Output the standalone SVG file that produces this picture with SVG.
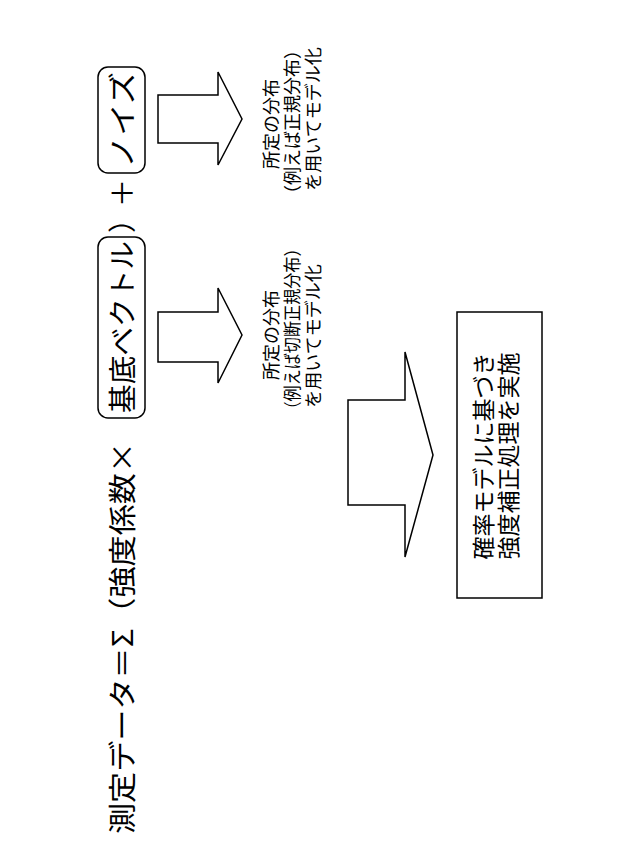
<svg xmlns="http://www.w3.org/2000/svg" width="640" height="860" viewBox="0 0 640 860">
<style>
text{font-family:"Noto Sans CJK JP","Noto Sans",sans-serif;fill:#000;dominant-baseline:central;text-anchor:middle}
.eq{font-size:28px}
.lbl{font-size:18px}
.box{font-size:23px}
.s{fill:#fff;stroke:#000;stroke-width:1.5}
</style>
<rect width="640" height="860" fill="#fff"/>
<g id="equation">
<text class="eq" transform="translate(121,834) rotate(-90)" style="text-anchor:start" textLength="392" lengthAdjust="spacingAndGlyphs">測定データ＝Σ（強度係数×</text>
</g>
<g id="basis">
<rect class="s" x="98" y="237" width="47" height="181" rx="10"/>
<text class="eq" transform="translate(121,327) rotate(-90)" textLength="172" lengthAdjust="spacingAndGlyphs">基底ベクトル</text>
</g>
<g id="paren">
<text class="eq" transform="translate(121,219) rotate(-90)">）</text>
<text class="eq" transform="translate(121,193) rotate(-90)">＋</text>
</g>
<g id="noise">
<rect class="s" x="98" y="67" width="47" height="106" rx="10"/>
<text class="eq" transform="translate(121,120) rotate(-90)" textLength="96" lengthAdjust="spacingAndGlyphs">ノイズ</text>
</g>
<g id="connectors">
<path class="s" d="M158,312 H218 V288 L242,335 L218,383 V362 H158 Z"/>
<path class="s" d="M158,95 H218 V72 L242,119 L218,165 V143 H158 Z"/>
<path class="s" d="M348,400 H405 V352 L433,455 L405,557 V505 H348 Z"/>
</g>
<g id="label1">
<text class="lbl" transform="translate(270,335) rotate(-90)">所定の分布</text>
<text class="lbl" transform="translate(291,329) rotate(-90)" textLength="177" lengthAdjust="spacingAndGlyphs">（例えば切断正規分布）</text>
<text class="lbl" transform="translate(312,336) rotate(-90)">を用いてモデル化</text>
</g>
<g id="label2">
<text class="lbl" transform="translate(270,124) rotate(-90)">所定の分布</text>
<text class="lbl" transform="translate(291,122) rotate(-90)">（例えば正規分布）</text>
<text class="lbl" transform="translate(312,119) rotate(-90)">を用いてモデル化</text>
</g>
<g id="process">
<rect class="s" x="457" y="312" width="85" height="286"/>
<text class="box" transform="translate(482,456) rotate(-90)">確率モデルに基づき</text>
<text class="box" transform="translate(507,456) rotate(-90)">強度補正処理を実施</text>
</g>
</svg>
